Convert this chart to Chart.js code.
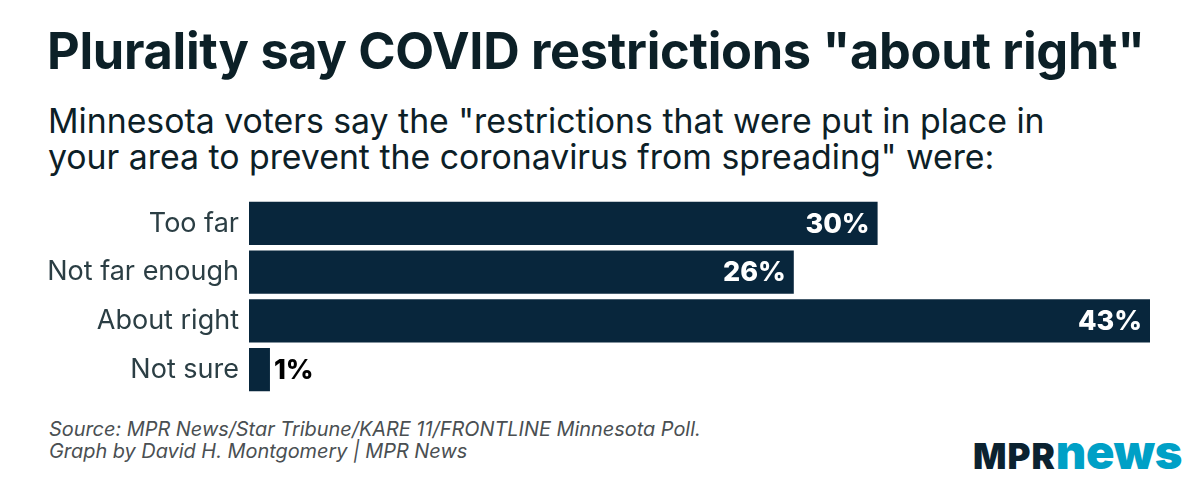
<!DOCTYPE html>
<html>
<head>
<meta charset="utf-8">
<script src="https://cdn.jsdelivr.net/npm/chart.js@4"></script>
<style>
  html, body { margin: 0; padding: 0; background: #fff; }
  #wrap { position: relative; width: 1200px; height: 480px; overflow: hidden; font-family: Inter, "Noto Sans", sans-serif; }
  #title { position: absolute; left: 47px; top: 20px; font-size: 50.5px; font-weight: 700; color: #0c2027; letter-spacing: -0.3px; white-space: nowrap; }
  #subtitle { position: absolute; left: 48px; top: 103px; font-size: 33.8px; font-weight: 400; color: #0c2027; line-height: 36px; white-space: nowrap; }
  #chartBox { position: absolute; left: 0; top: 199px; width: 1200px; height: 195px; }
  #source { position: absolute; left: 49px; top: 418px; font-size: 19.9px; font-style: italic; color: #4a4f52; line-height: 22px; white-space: nowrap; }
  #logo { position: absolute; left: 973px; top: 428px; white-space: nowrap; font-weight: 900; line-height: 1; }
  #logo .a { color: #0b2230; font-size: 35px; letter-spacing: 1px; }
  #logo .b { color: #00a0c6; font-size: 47px; letter-spacing: -0.3px; }
</style>
</head>
<body>
<div id="wrap">
  <div id="title">Plurality say COVID restrictions "about right"</div>
  <div id="subtitle">Minnesota voters say the "restrictions that were put in place in<br>your area to prevent the coronavirus from spreading" were:</div>
  <div id="chartBox"><canvas id="chart"></canvas></div>
  <div id="source">Source: MPR News/Star Tribune/KARE 11/FRONTLINE Minnesota Poll.<br>Graph by David H. Montgomery | MPR News</div>
  <div id="logo"><span class="a">MPR</span><span class="b">news</span></div>
</div>
<script>
const categories = ["Too far", "Not far enough", "About right", "Not sure"];
const values = [30, 26, 43, 1];
const valueLabels = ["30%", "26%", "43%", "1%"];

// value labels: inside the bar (white) when there is room, else just outside (black)
const barLabels = {
  id: "barLabels",
  afterDatasetsDraw(chart) {
    const ctx = chart.ctx;
    const meta = chart.getDatasetMeta(0);
    ctx.save();
    ctx.font = "800 27px Inter";
    ctx.textBaseline = "middle";
    meta.data.forEach((bar, i) => {
      const text = valueLabels[i];
      const w = ctx.measureText(text).width;
      if (bar.x - bar.base > w + 16) {
        ctx.fillStyle = "#ffffff";
        ctx.textAlign = "right";
        ctx.fillText(text, bar.x - 8, bar.y + 1);
      } else {
        ctx.fillStyle = "#000000";
        ctx.textAlign = "left";
        ctx.fillText(text, bar.x + 4, bar.y + 1);
      }
    });
    ctx.restore();
  }
};

new Chart(document.getElementById("chart"), {
  type: "bar",
  data: {
    labels: categories,
    datasets: [{
      data: values,
      backgroundColor: "#08263c",
      barPercentage: 0.89,
      categoryPercentage: 1
    }]
  },
  options: {
    indexAxis: "y",
    responsive: true,
    maintainAspectRatio: false,
    animation: false,
    layout: { padding: { left: 0, right: 50, top: 0, bottom: 0 } },
    plugins: {
      legend: { display: false },
      tooltip: { enabled: false }
    },
    scales: {
      x: { display: false, min: 0, max: 43 },
      y: {
        grid: { display: false, drawTicks: false },
        border: { display: false },
        afterFit(scale) {
          scale.width = 249;
          scale.paddingTop = 0;
          scale.paddingBottom = 0;
        },
        ticks: {
          padding: 10,
          color: "#2b3e44",
          font: { family: "Inter", size: 27 }
        }
      }
    }
  },
  plugins: [barLabels]
});
</script>
</body>
</html>
